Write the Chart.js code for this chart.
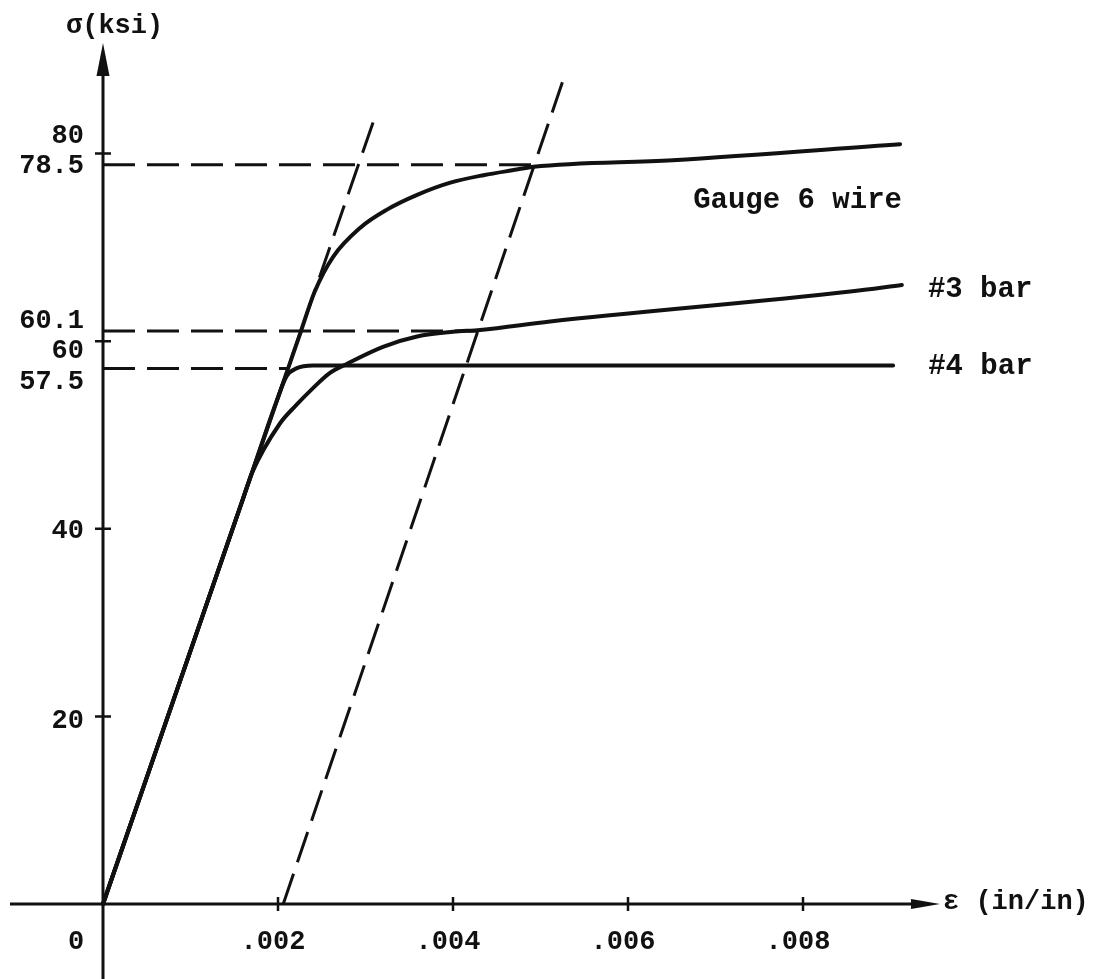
<!DOCTYPE html>
<html>
<head>
<meta charset="utf-8">
<title>Stress-strain curves</title>
<script src="https://cdn.jsdelivr.net/npm/chart.js@4.4.1/dist/chart.umd.min.js"></script>
<style>
  body { margin: 0; background: #fff; }
  #grafic { display: block; }
</style>
</head>
<body>
<canvas id="grafic" width="1108" height="979"></canvas>
<script>
// strain in in/in, stress in ksi
const wireStrain = [0, 0.00090, 0.00170, 0.00226, 0.00242, 0.00263, 0.00294, 0.00324, 0.00359, 0.00397, 0.00435, 0.00473, 0.00492, 0.00651, 0.00911];
const wireStress = [0, 24.3, 45.9, 61.0, 65.3, 69.0, 72.1, 74.0, 75.6, 76.9, 77.7, 78.3, 78.6, 79.3, 81.0];

const bar3Strain = [0, 0.00090, 0.00160, 0.00170, 0.00202, 0.00221, 0.00240, 0.00259, 0.00279, 0.00320, 0.00359, 0.00400, 0.00431, 0.00511, 0.00854, 0.00913];
const bar3Stress = [0, 24.3, 43.2, 45.9, 51.2, 53.2, 55.0, 56.6, 57.6, 59.4, 60.5, 61.0, 61.2, 62.1, 65.3, 66.0];

const bar4Strain = [0, 0.00090, 0.00170, 0.00198, 0.00210, 0.00221, 0.00240, 0.00903];
const bar4Stress = [0, 24.3, 45.9, 53.5, 56.3, 57.1, 57.4, 57.4];

// dashed yield levels (wire, #3, #4) and where each stops
const yieldStress = [78.8, 61.1, 57.1];
const yieldStrainEnd = [0.00492, 0.00428, 0.00211];

// elastic line extended, and the 0.2% offset line
const elasticStrain = [0.00198, 0.00313];
const elasticStress = [53.5, 84.5];
const offsetStrain = [0.00206, 0.00525];
const offsetStress = [0, 87.6];

const xTicks = [0.002, 0.004, 0.006, 0.008];
const xTickLabels = [".002", ".004", ".006", ".008"];
const yTicks = [20, 40, 60, 80];
const yLabels = ["80", "78.5", "60.1", "60", "57.5", "40", "20"];
const yLabelStress = [80, 78.8, 61.1, 60, 57.1, 40, 20];
const curveNames = ["Gauge 6 wire", "#3 bar", "#4 bar"];

// ---- layout ----
const ink = "#111";
const monoFont = "'Liberation Mono', 'DejaVu Sans Mono', monospace";
const originX = 103;
const originY = 904;
const pxPerStrain = 87500; // 87.5 px per .001
const pxPerKsi = 9.38;
const W = 1108, H = 979;
const yLabelBaseShift = [-11, 8, -3, 17, 21, 9, 12];
const curveLabelShift = [[-207, 64], [26, 12], [35, 8]];

function toPoints(xs, ys) {
  return xs.map((x, i) => ({ x: x, y: ys[i] }));
}

function solid(xs, ys) {
  return {
    data: toPoints(xs, ys),
    showLine: true,
    borderColor: ink,
    borderWidth: 4,
    pointRadius: 0,
    cubicInterpolationMode: "monotone",
    borderCapStyle: "round",
  };
}

function dashed(xs, ys) {
  return {
    data: toPoints(xs, ys),
    showLine: true,
    borderColor: ink,
    borderWidth: 3,
    pointRadius: 0,
    borderDash: [32, 12],
  };
}

let datasets = [
  solid(wireStrain, wireStress),
  solid(bar3Strain, bar3Stress),
  solid(bar4Strain, bar4Stress),
];
yieldStress.forEach((s, i) => {
  datasets.push(dashed([0, yieldStrainEnd[i]], [s, s]));
});
datasets.push(dashed(elasticStrain, elasticStress));
datasets.push(dashed(offsetStrain, offsetStress));

const axesPlugin = {
  id: "handAxes",
  beforeDatasetsDraw(chart) {
    const ctx = chart.ctx;
    const sx = chart.scales.x;
    const sy = chart.scales.y;
    const ox = sx.getPixelForValue(0);
    const oy = sy.getPixelForValue(0);

    ctx.save();
    ctx.strokeStyle = ink;
    ctx.fillStyle = ink;
    ctx.lineWidth = 3;
    ctx.beginPath();
    ctx.moveTo(ox, chart.chartArea.bottom);
    ctx.lineTo(ox, 72);
    ctx.moveTo(10, oy);
    ctx.lineTo(914, oy);
    ctx.stroke();

    // arrow heads
    ctx.beginPath();
    ctx.moveTo(ox, 43);
    ctx.lineTo(ox - 6.5, 76);
    ctx.lineTo(ox + 6.5, 76);
    ctx.closePath();
    ctx.moveTo(940, oy);
    ctx.lineTo(911, oy - 5);
    ctx.lineTo(911, oy + 5);
    ctx.closePath();
    ctx.fill();

    // tick marks
    ctx.lineWidth = 2.5;
    ctx.beginPath();
    yTicks.forEach((v) => {
      const p = sy.getPixelForValue(v);
      ctx.moveTo(ox - 8, p);
      ctx.lineTo(ox + 8, p);
    });
    xTicks.forEach((v) => {
      const p = sx.getPixelForValue(v);
      ctx.moveTo(p, oy - 7);
      ctx.lineTo(p, oy + 7);
    });
    ctx.stroke();
    ctx.restore();
  },
  afterDatasetsDraw(chart) {
    const ctx = chart.ctx;
    const sx = chart.scales.x;
    const sy = chart.scales.y;
    const ox = sx.getPixelForValue(0);
    const oy = sy.getPixelForValue(0);

    ctx.save();
    ctx.fillStyle = ink;
    ctx.textBaseline = "alphabetic";
    ctx.font = "bold 27px " + monoFont;

    // axis titles
    ctx.textAlign = "left";
    ctx.fillText("σ(ksi)", 66, 33);
    ctx.fillText("ε (in/in)", 943, oy + 5);

    // y labels
    ctx.textAlign = "right";
    yLabels.forEach((t, i) => {
      ctx.fillText(t, 84, sy.getPixelForValue(yLabelStress[i]) + yLabelBaseShift[i]);
    });

    // x labels
    ctx.textAlign = "center";
    ctx.fillText("0", ox - 27, oy + 45);
    xTickLabels.forEach((t, i) => {
      ctx.fillText(t, sx.getPixelForValue(xTicks[i]) - 5, oy + 45);
    });

    // curve names next to the line ends
    ctx.textAlign = "left";
    ctx.font = "bold 29px " + monoFont;
    const ends = [
      [wireStrain, wireStress],
      [bar3Strain, bar3Stress],
      [bar4Strain, bar4Stress],
    ];
    curveNames.forEach((name, i) => {
      const xs = ends[i][0];
      const ys = ends[i][1];
      const px = sx.getPixelForValue(xs[xs.length - 1]);
      const py = sy.getPixelForValue(ys[ys.length - 1]);
      ctx.fillText(name, px + curveLabelShift[i][0], py + curveLabelShift[i][1]);
    });
    ctx.restore();
  },
};

function chartRender() {
  const ctx = document.getElementById("grafic").getContext("2d");
  new Chart(ctx, {
    type: "scatter",
    data: { datasets: datasets },
    options: {
      responsive: false,
      animation: false,
      events: [],
      layout: { padding: 0 },
      plugins: {
        legend: { display: false },
        tooltip: { enabled: false },
      },
      scales: {
        x: {
          type: "linear",
          display: false,
          min: -originX / pxPerStrain,
          max: (W - originX) / pxPerStrain,
        },
        y: {
          type: "linear",
          display: false,
          min: -(H - originY) / pxPerKsi,
          max: originY / pxPerKsi,
        },
      },
    },
    plugins: [axesPlugin],
  });
}

chartRender();
</script>
</body>
</html>
